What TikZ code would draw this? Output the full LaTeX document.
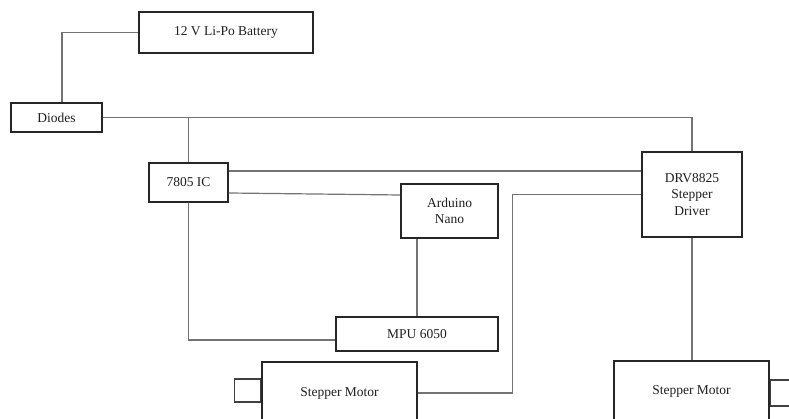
\documentclass[tikz,border=0pt]{standalone}
\usepackage{fontspec}
\setmainfont{Liberation Serif}
\begin{document}
\begin{tikzpicture}[x=1pt,y=-1pt,
  blk/.style={draw=black!85, line width=1.6pt, fill=white, inner sep=0pt, align=center,
    font=\fontsize{13.5}{16.5}\selectfont, text=black!88},
  shaft/.style={draw=black!75, line width=1.2pt, inner sep=0pt},
  wire/.style={draw=black!55, line width=1.2pt}]
\useasboundingbox (0,0) rectangle (789,419);
\clip (0,0) rectangle (789,419);
% blocks
\node[blk, minimum width=174pt, minimum height=41pt] (bat) at (226,32.5) {12 V Li-Po Battery};
\node[blk, minimum width=91pt, minimum height=29pt] (dio) at (56.5,117.5) {Diodes};
\node[blk, minimum width=79pt, minimum height=39pt] (ic) at (188.5,182.5) {7805 IC};
\node[blk, minimum width=97pt, minimum height=54pt] (ard) at (449.5,211) {Arduino\\Nano};
\node[blk, minimum width=100pt, minimum height=85pt] (drv) at (692,194.5) {DRV8825\\Stepper\\Driver};
\node[blk, minimum width=162pt, minimum height=34pt] (mpu) at (417,334) {MPU 6050};
\node[blk, minimum width=155pt, minimum height=62pt] (m1) at (339.5,393) {Stepper Motor};
\node[blk, minimum width=155pt, minimum height=60pt] (m2) at (691.5,391) {Stepper Motor};
% motor shafts
\node[shaft, minimum width=26pt, minimum height=23pt, anchor=east] (sh1) at (m1.west |- 0,390.5) {};
\node[shaft, minimum width=30pt, minimum height=26pt, anchor=west] (sh2) at (m2.east |- 0,393) {};
% connectors
\draw[wire] (bat.west) -| ([xshift=5.5pt]dio.north);
\draw[wire] (dio.east) -| (drv.north);
\draw[wire] (ic.north) -- (ic.north |- dio.east);
\draw[wire] ([yshift=11.5pt]ic.east) -- ([yshift=11.5pt]ic.east -| drv.west);
\draw[wire] ([yshift=-10.5pt]ic.east) -- ([yshift=16pt]ard.west);
\draw[wire] (mpu.north) -- (mpu.north |- ard.south);
\draw[wire] (ic.south) |- ([yshift=-6pt]mpu.west);
\draw[wire] (m1.east) -| ([xshift=-129pt]drv.west) -- (drv.west);
\draw[wire] (drv.south) -- (drv.south |- m2.north);
\end{tikzpicture}
\end{document}
